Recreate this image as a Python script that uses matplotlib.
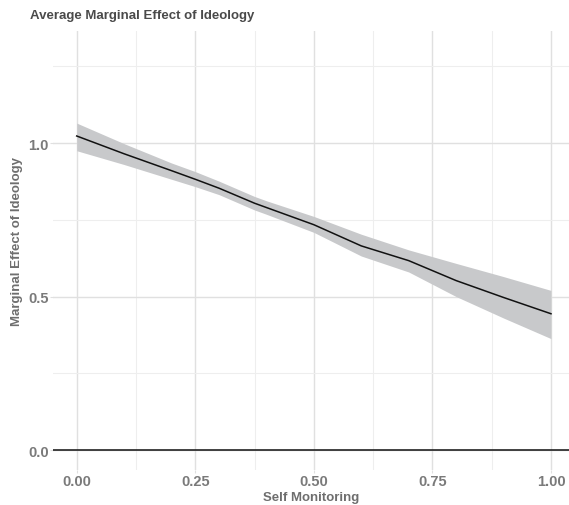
import numpy as np
import matplotlib.pyplot as plt

plt.rcParams['font.family'] = ['Liberation Sans', 'DejaVu Sans']

# values
self_monitoring = [0.0, 0.1, 0.2, 0.25, 0.3, 0.375, 0.4, 0.5, 0.6, 0.7, 0.8, 0.9, 1.0]
effect = [1.023, 0.965, 0.91, 0.882, 0.853, 0.804, 0.79, 0.734, 0.665, 0.617, 0.552, 0.497, 0.444]
upper = [1.065, 0.998, 0.935, 0.907, 0.876, 0.826, 0.812, 0.761, 0.703, 0.652, 0.608, 0.565, 0.52]
lower = [0.975, 0.93, 0.882, 0.858, 0.832, 0.782, 0.768, 0.709, 0.632, 0.58, 0.50, 0.43, 0.363]

x_ticks = [0.0, 0.25, 0.5, 0.75, 1.0]
x_labels = ['0.00', '0.25', '0.50', '0.75', '1.00']
y_ticks = [0.0, 0.5, 1.0]
y_labels = ['0.0', '0.5', '1.0']

fig = plt.figure(figsize=(5.69, 5.06), dpi=100)
ax = fig.add_axes([53 / 569, 35 / 506, (569 - 53) / 569, (471 - 32) / 506])

ax.fill_between(self_monitoring, lower, upper, color='#c8c9cb', linewidth=0, zorder=2)
ax.plot(self_monitoring, effect, color='#111111', linewidth=1.1, zorder=3)
ax.axhline(0, color='#111111', linewidth=1.1, zorder=3)

ax.set_xlim(-0.05, 1.038)
ax.set_ylim(-0.065, 1.365)

ax.set_xticks(x_ticks)
ax.set_xticklabels(x_labels)
ax.set_yticks(y_ticks)
ax.set_yticklabels(y_labels)
ax.set_xticks([0.125, 0.375, 0.625, 0.875], minor=True)
ax.set_yticks([0.25, 0.75, 1.25], minor=True)

ax.grid(which='major', color='#e0e0e0', linewidth=1.0, zorder=0)
ax.grid(which='minor', color='#eeeeee', linewidth=0.8, zorder=0)
ax.set_axisbelow(True)
for s in ax.spines.values():
    s.set_visible(False)

ax.tick_params(which='major', length=2, color='#e0e0e0', labelcolor='#7a7a7a',
               labelsize=10.5, pad=1)
ax.tick_params(which='minor', length=0)
for lab in ax.get_xticklabels() + ax.get_yticklabels():
    lab.set_fontweight('bold')

ax.set_xlabel('Self Monitoring', fontsize=9.5, fontweight='bold', color='#6e6e6e', labelpad=2)
ax.set_ylabel('Marginal Effect of Ideology', fontsize=9.5, fontweight='bold', color='#6e6e6e')
ax.yaxis.set_label_coords(-30 / 516, (471 - 242) / 439)
fig.text(30 / 569, 1 - 16 / 506, 'Average Marginal Effect of Ideology', fontsize=9.5,
         fontweight='bold', color='#4a4a4a', va='center', ha='left')

fig.savefig('out.png', dpi=100, facecolor='white')
